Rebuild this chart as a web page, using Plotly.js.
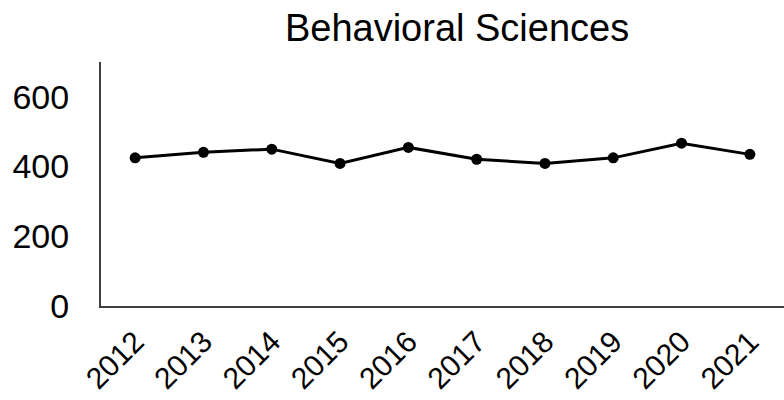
<!DOCTYPE html>
<html>
<head>
<meta charset="utf-8">
<script src="https://cdn.plot.ly/plotly-3.0.1.min.js"></script>
<style>
  html, body { margin: 0; padding: 0; background: #ffffff; }
  #chart { width: 784px; height: 400px; }
</style>
</head>
<body>
<div id="chart"></div>
<script>
// Yearly counts for the Behavioral Sciences field
const years = ["2012", "2013", "2014", "2015", "2016", "2017", "2018", "2019", "2020", "2021"];
const counts = [425, 441, 450, 409, 455, 421, 409, 425, 467, 435];
const yTicks = [0, 200, 400, 600];

const trace = {
  x: years,
  y: counts,
  type: "scatter",
  mode: "lines+markers",
  line: { color: "#000000", width: 3 },
  marker: { color: "#000000", size: 11 },
  hoverinfo: "x+y"
};

const layout = {
  width: 784,
  height: 400,
  margin: { l: 101, r: 0, t: 62, b: 94 },
  paper_bgcolor: "#ffffff",
  plot_bgcolor: "#ffffff",
  showlegend: false,
  font: { family: "Liberation Sans, Arial, sans-serif", color: "#000000" },
  title: {
    text: "Behavioral Sciences",
    font: { size: 38, color: "#000000" },
    xref: "container",
    x: 0.583,
    xanchor: "center",
    yref: "container",
    y: 0.93,
    yanchor: "middle"
  },
  xaxis: {
    type: "category",
    range: [-0.5, 9.5],
    showgrid: false,
    zeroline: false,
    showline: true,
    linecolor: "#404040",
    linewidth: 2,
    ticks: "",
    tickangle: -45,
    ticklabelstandoff: 4,
    tickfont: { size: 30, color: "#000000" }
  },
  yaxis: {
    range: [0, 700],
    tickvals: yTicks,
    ticktext: yTicks.map(String),
    showgrid: false,
    zeroline: false,
    showline: true,
    linecolor: "#404040",
    linewidth: 2,
    ticks: "",
    ticklabelstandoff: 23,
    tickfont: { size: 34, color: "#000000" }
  }
};

Plotly.newPlot("chart", [trace], layout, { displayModeBar: false, staticPlot: true });
</script>
</body>
</html>
